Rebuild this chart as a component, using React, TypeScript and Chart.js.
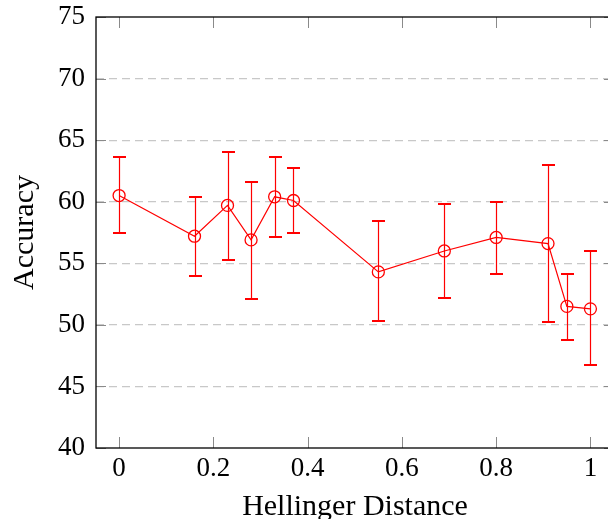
import React, { useEffect, useRef } from "react";
import { Chart, registerables } from "chart.js";

Chart.register(...registerables);

const hellinger = [0, 0.16, 0.23, 0.28, 0.33, 0.37, 0.55, 0.69, 0.8, 0.91, 0.95, 1.0];
const accuracy = [60.5, 57.2, 59.7, 56.9, 60.4, 60.1, 54.3, 56.0, 57.1, 56.6, 51.5, 51.3];
const errUpper = [63.6, 60.4, 64.0, 61.6, 63.6, 62.7, 58.4, 59.8, 60.0, 63.0, 54.1, 56.0];
const errLower = [57.5, 54.0, 55.3, 52.1, 57.1, 57.5, 50.3, 52.2, 54.1, 50.2, 48.8, 46.7];
const xTicks = [0, 0.2, 0.4, 0.6, 0.8, 1];
const yTicks = [40, 45, 50, 55, 60, 65, 70, 75];

const SERIF = "'Liberation Serif', 'Times New Roman', serif";
const RED = "#ff0000";

const errorBarPlugin = {
  id: "errorBars",
  beforeDatasetsDraw(chart: any) {
    const { ctx, scales } = chart;
    const xs = scales.x;
    const ys = scales.y;
    ctx.save();
    ctx.strokeStyle = RED;
    for (let i = 0; i < hellinger.length; i++) {
      const px = Math.round(xs.getPixelForValue(hellinger[i])) + 0.5;
      const pt = Math.round(ys.getPixelForValue(errUpper[i]));
      const pb = Math.round(ys.getPixelForValue(errLower[i]));
      ctx.lineWidth = 1.2;
      ctx.beginPath();
      ctx.moveTo(px, pt);
      ctx.lineTo(px, pb);
      ctx.stroke();
      ctx.lineWidth = 2;
      ctx.beginPath();
      ctx.moveTo(px - 6.5, pt);
      ctx.lineTo(px + 6.5, pt);
      ctx.moveTo(px - 6.5, pb);
      ctx.lineTo(px + 6.5, pb);
      ctx.stroke();
    }
    ctx.restore();
  },
};

const framePlugin = {
  id: "frame",
  afterDraw(chart: any) {
    const { ctx, chartArea: a, scales } = chart;
    ctx.save();
    ctx.strokeStyle = "#8a8a8a";
    ctx.lineWidth = 1;
    for (const v of xTicks) {
      const px = Math.round(scales.x.getPixelForValue(v)) + 0.5;
      ctx.beginPath();
      ctx.moveTo(px, a.bottom);
      ctx.lineTo(px, a.bottom - 11);
      ctx.moveTo(px, a.top);
      ctx.lineTo(px, a.top + 11);
      ctx.stroke();
    }
    for (const v of yTicks) {
      const py = Math.round(scales.y.getPixelForValue(v)) + 0.5;
      ctx.beginPath();
      ctx.moveTo(a.left, py);
      ctx.lineTo(a.left + 10, py);
      ctx.moveTo(a.right, py);
      ctx.lineTo(a.right - 10, py);
      ctx.stroke();
    }
    ctx.strokeStyle = "#000000";
    ctx.lineWidth = 1.3;
    ctx.strokeRect(a.left, a.top, a.right - a.left, a.bottom - a.top);
    ctx.restore();
  },
};

export default function App() {
  const ref = useRef<HTMLCanvasElement>(null);
  useEffect(() => {
    if (!ref.current) return;
    const chart = new Chart(ref.current, {
      type: "line",
      data: {
        datasets: [
          {
            data: hellinger.map((x, i) => ({ x, y: accuracy[i] })),
            borderColor: RED,
            borderWidth: 1.2,
            backgroundColor: "rgba(0,0,0,0)",
            pointStyle: "circle",
            pointRadius: 6,
            pointHoverRadius: 6,
            pointBorderWidth: 1.3,
            pointBorderColor: RED,
            pointBackgroundColor: "rgba(0,0,0,0)",
            tension: 0,
          },
        ],
      },
      options: {
        animation: false,
        responsive: false,
        maintainAspectRatio: false,
        layout: { padding: { top: 17, right: 0, left: 0, bottom: 0 } },
        plugins: { legend: { display: false }, tooltip: { enabled: false } },
        scales: {
          x: {
            type: "linear",
            min: -0.049,
            max: 1.05,
            afterBuildTicks: (s: any) => {
              s.ticks = xTicks.map((v) => ({ value: v }));
            },
            afterFit: (s: any) => {
              s.height = 71;
              s.paddingLeft = 0;
              s.paddingRight = 0;
            },
            grid: { display: false, drawTicks: false },
            border: { display: false },
            ticks: {
              color: "#000",
              padding: 5,
              maxRotation: 0,
              autoSkip: false,
              font: { family: SERIF, size: 27 },
              callback: (v: any) => String(Math.round(Number(v) * 10) / 10),
            },
            title: {
              display: true,
              text: "Hellinger Distance",
              color: "#000",
              font: { family: SERIF, size: 30 },
              padding: { top: 0, bottom: -6 },
            },
          },
          y: {
            type: "linear",
            min: 40,
            max: 75,
            afterBuildTicks: (s: any) => {
              s.ticks = yTicks.map((v) => ({ value: v }));
            },
            afterFit: (s: any) => {
              s.width = 96;
              s.paddingTop = 0;
              s.paddingBottom = 0;
            },
            grid: {
              color: (c: any) =>
                c.tick && (c.tick.value === 40 || c.tick.value === 75) ? "rgba(0,0,0,0)" : "#c8c8c8",
              lineWidth: 1.2,
              drawTicks: false,
            },
            border: { display: false, dash: [8, 5] },
            ticks: {
              color: "#000",
              padding: 11,
              font: { family: SERIF, size: 27 },
            },
            title: {
              display: true,
              text: "Accuracy",
              color: "#000",
              font: { family: SERIF, size: 30 },
              padding: { top: 7, bottom: 0 },
            },
          },
        },
      },
      plugins: [errorBarPlugin, framePlugin],
    } as any);
    const meta: any = chart.getDatasetMeta(0);
    if (meta && meta.controller) {
      meta.controller.getMaxOverflow = () => 0;
      chart.update();
    }
    return () => chart.destroy();
  }, []);
  return (
    <div
      style={{
        position: "fixed",
        left: 0,
        top: 0,
        width: 608,
        height: 519,
        overflow: "hidden",
        background: "#fff",
      }}
    >
      <canvas ref={ref} width={614} height={519} style={{ width: 614, height: 519, display: "block" }} />
    </div>
  );
}
